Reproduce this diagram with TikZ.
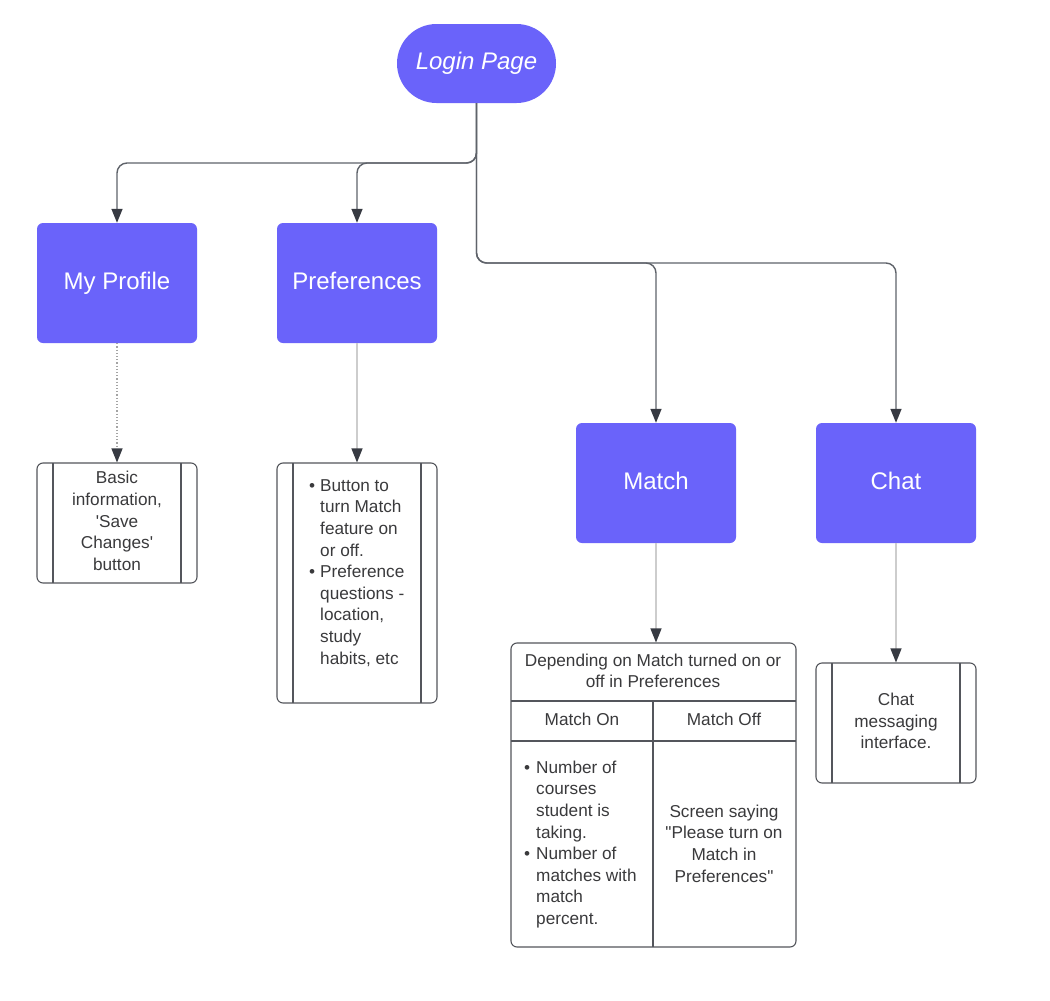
\documentclass[tikz,border=0pt]{standalone}
\usepackage{fontspec}
\setmainfont{Liberation Sans}
\usetikzlibrary{arrows.meta,calc}
\definecolor{purp}{RGB}{106,99,250}
\definecolor{conncol}{RGB}{55,58,66}
\definecolor{linecol}{RGB}{95,99,106}
\definecolor{txt}{RGB}{58,58,60}
\definecolor{edgecol}{RGB}{84,86,92}
\definecolor{lightcol}{RGB}{205,205,205}
\begin{document}
\begin{tikzpicture}[x=1pt,y=-1pt,
 screen/.style={fill=purp, rounded corners=6pt, minimum width=160pt, minimum height=120pt, text=white, font=\fontsize{24}{28}\selectfont, inner sep=0pt, text height=17pt, text depth=5pt},
 pill/.style={fill=purp, rounded corners=39.5pt, minimum width=159pt, minimum height=79pt, text=white, font=\fontsize{24}{28}\selectfont\itshape, inner sep=0pt, text height=17pt, text depth=5pt},
 subbox/.style={draw=edgecol, line width=1.1pt, rounded corners=6pt, minimum width=160pt, inner sep=0pt,
   path picture={\draw[edgecol, line width=1.1pt] ([xshift=16pt]path picture bounding box.north west) -- ([xshift=16pt]path picture bounding box.south west);
                 \draw[edgecol, line width=1.1pt] ([xshift=-16pt]path picture bounding box.north east) -- ([xshift=-16pt]path picture bounding box.south east);}},
 tbox/.style={text=txt, font=\fontsize{17.2}{21.6}\selectfont, inner sep=0pt},
 tip/.style={-{Triangle[length=14pt,width=11pt,color=conncol]}},
 mainconn/.style={draw=linecol, line width=1.4pt, rounded corners=10pt, tip},
 lightconn/.style={draw=lightcol, line width=1.2pt, tip},
 dotconn/.style={draw=lightcol!80!black, line width=1.2pt, dotted, tip},
]
\useasboundingbox[fill=white] (0,0) rectangle (1050,1001);

% main screens
\node[pill] (login) at (476.5,63.5) {Login Page};
\node[screen] (prof) at (117,283) {My Profile};
\node[screen] (pref) at (357,283) {Preferences};
\node[screen] (match) at (656,483) {Match};
\node[screen] (chat) at (896,483) {Chat};

% detail boxes
\node[subbox, minimum height=120pt] (basic) at (117,523) {};
\node[subbox, minimum height=240pt] (prefbox) at (357,583) {};
\node[subbox, minimum height=120pt] (chatbox) at (896,723) {};
\node[draw=edgecol, line width=1.1pt, rounded corners=6pt, minimum width=285pt, minimum height=304pt, inner sep=0pt] (tbl) at (653.5,795) {};
\draw[edgecol, line width=1.1pt] (511,701) -- (796,701);
\draw[edgecol, line width=1.1pt] (511,741) -- (796,741);
\draw[edgecol, line width=1.1pt] (653,701) -- (653,947);

% texts
\node[tbox, align=center] (basictext) at (117,521) {Basic\\information,\\\textquotesingle Save\\Changes\textquotesingle\\button};
\node[tbox, anchor=north west] (preftext) at (309,476)
  {\begin{tabular}{@{}l@{\hspace{5pt}}l@{}}
   \textbullet & Button to\\ & turn Match\\ & feature on\\ & or off.\\
   \textbullet & Preference\\ & questions -\\ & location,\\ & study\\ & habits, etc
   \end{tabular}};
\node[tbox, align=center] (chattext) at (896,721) {Chat\\messaging\\interface.};
\node[tbox, align=center] (hdr) at (653,671) {Depending on Match turned on or\\off in Preferences};
\node[tbox] (onlbl) at (582,719) {Match On};
\node[tbox] (offlbl) at (724,719) {Match Off};
\node[tbox, anchor=north west] (ontext) at (524,758)
  {\begin{tabular}{@{}l@{\hspace{6pt}}l@{}}
   \textbullet & Number of\\ & courses\\ & student is\\ & taking.\\
   \textbullet & Number of\\ & matches with\\ & match\\ & percent.
   \end{tabular}};
\node[tbox, align=center] (offtext) at (724,843.5) {Screen saying\\\textquotedbl Please turn on\\Match in\\Preferences\textquotedbl};

% connectors
\coordinate (j1) at (476.5,163);
\coordinate (j2) at (476.5,263);
\draw[mainconn] (login.south) -- (j1) -| (prof.north);
\draw[mainconn] (login.south) -- (j1) -| (pref.north);
\draw[mainconn] (login.south) -- (j2) -| (match.north);
\draw[mainconn] (login.south) -- (j2) -| (chat.north);

\draw[dotconn] (prof.south) -- (basic.north);
\draw[lightconn] (pref.south) -- (prefbox.north);
\draw[lightconn] (match.south) -- (match.south |- tbl.north);
\draw[lightconn] (chat.south) -- (chatbox.north);
\end{tikzpicture}
\end{document}
